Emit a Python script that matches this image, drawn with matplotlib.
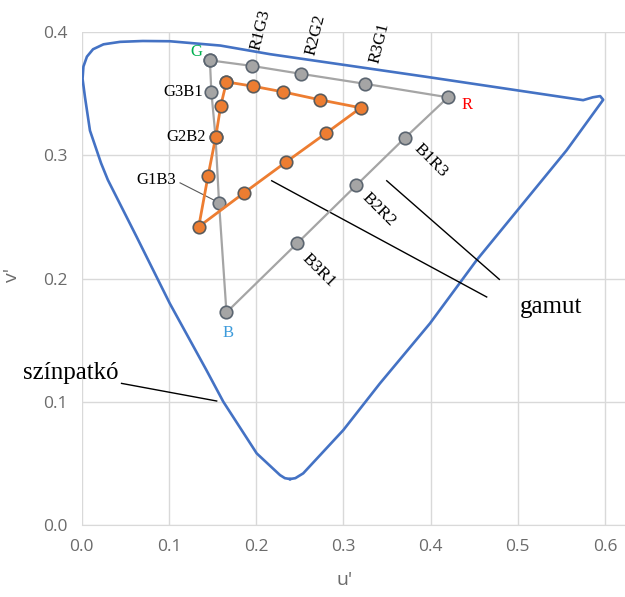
import numpy as np
import matplotlib
matplotlib.use("Agg")
import matplotlib.pyplot as plt

# spectral locus ("színpatkó")
locus_u = [0.2389, 0.233, 0.2274, 0.2007, 0.1624, 0.143, 0.101, 0.063, 0.030, 0.0222, 0.0095,
           0.0038, 0.001, 0.002, 0.006, 0.013, 0.025, 0.044, 0.070, 0.101, 0.159, 0.216, 0.3956,
           0.575, 0.586, 0.5945, 0.598, 0.556, 0.453, 0.3994, 0.342, 0.300, 0.254, 0.245, 0.2389]
locus_v = [0.0373, 0.038, 0.0405, 0.0581, 0.100, 0.1257, 0.1798, 0.2338, 0.280, 0.2936, 0.320,
           0.347, 0.362, 0.372, 0.380, 0.386, 0.390, 0.392, 0.3927, 0.3925, 0.389, 0.382, 0.3636,
           0.3447, 0.347, 0.348, 0.345, 0.304, 0.215, 0.1636, 0.1149, 0.077, 0.0419, 0.038, 0.0373]

# display gamut triangle (gray) with intermediate points
tri_names = ["G", "R1G3", "R2G2", "R3G1", "R", "B1R3", "B2R2", "B3R1", "B", "G1B3", "G2B2", "G3B1"]
tri_u = [0.147, 0.195, 0.252, 0.3245, 0.420, 0.3704, 0.315, 0.247, 0.166, 0.1575, 0.1535, 0.1487]
tri_v = [0.377, 0.3725, 0.366, 0.358, 0.347, 0.3139, 0.2757, 0.2285, 0.1725, 0.2614, 0.3146, 0.3514]

# measured gamut (orange)
meas_u = [0.166, 0.1965, 0.231, 0.273, 0.320, 0.2798, 0.2347, 0.1862, 0.1342, 0.1449, 0.1537, 0.1594]
meas_v = [0.3595, 0.356, 0.3514, 0.345, 0.3385, 0.3177, 0.2947, 0.2695, 0.242, 0.2833, 0.3149, 0.340]

serif = "Liberation Serif"
tickfont = "Open Sans"

fig = plt.figure(figsize=(6.25, 5.97), dpi=100)
ax = fig.add_axes([0.1307, 0.1206, 0.8693, 0.8258])

ax.set_xlim(0, 0.623)
ax.set_ylim(0, 0.4)
ax.set_xticks(np.arange(0, 0.61, 0.1))
ax.set_yticks(np.arange(0, 0.41, 0.1))
ax.xaxis.set_major_formatter(matplotlib.ticker.FormatStrFormatter("%.1f"))
ax.yaxis.set_major_formatter(matplotlib.ticker.FormatStrFormatter("%.1f"))
ax.grid(True, color="#d9d9d9", linewidth=1.0)
ax.set_axisbelow(True)
for s in ["left", "right", "top"]:
    ax.spines[s].set_visible(False)
ax.spines["bottom"].set_color("#d9d9d9")
ax.tick_params(length=0, labelcolor="#6b6b6b", labelsize=12.5, pad=10)
for lab in ax.get_xticklabels() + ax.get_yticklabels():
    lab.set_fontfamily(tickfont)

ax.plot(locus_u, locus_v, color="#4472c4", linewidth=1.9, zorder=2,
        solid_joinstyle="round")

tu = tri_u + [tri_u[0]]
tv = tri_v + [tri_v[0]]
ax.plot(tu, tv, color="#a5a5a5", linewidth=1.6, marker="o", markersize=9,
        markerfacecolor="#a5a5a5", markeredgecolor="#5b6570", markeredgewidth=1.2, zorder=3)

mu = meas_u + [meas_u[0]]
mv = meas_v + [meas_v[0]]
ax.plot(mu, mv, color="#ed7d31", linewidth=2.0, marker="o", markersize=9,
        markerfacecolor="#ed7d31", markeredgecolor="#5b5b5b", markeredgewidth=1.2, zorder=4)

# primaries
ax.text(0.131, 0.3836, "G", color="#00b050", fontsize=12, family=serif, ha="center", va="center")
ax.text(0.442, 0.341, "R", color="#ff0000", fontsize=12, family=serif, ha="center", va="center")
ax.text(0.168, 0.1557, "B", color="#3d9bdb", fontsize=12, family=serif, ha="center", va="center")

# point labels
ax.text(0.139, 0.351, "G3B1", fontsize=12, family=serif, ha="right", va="center")
ax.text(0.1426, 0.3147, "G2B2", fontsize=12, family=serif, ha="right", va="center")
ax.text(0.0852, 0.2798, "G1B3", fontsize=12, family=serif, ha="center", va="center")
ax.plot([0.1128, 0.1517], [0.2776, 0.2636], color="#595959", linewidth=0.8, zorder=2)
for name, x, y in [("R1G3", 0.2056, 0.4015), ("R2G2", 0.2686, 0.3974), ("R3G1", 0.3421, 0.3909)]:
    ax.text(x, y, name, fontsize=12.5, family=serif, ha="center", va="center",
            rotation=76, rotation_mode="anchor", clip_on=False)
for name, x, y in [("B1R3", 0.3996, 0.296), ("B2R2", 0.3409, 0.2563), ("B3R1", 0.2722, 0.2068)]:
    ax.text(x, y, name, fontsize=12.5, family=serif, ha="center", va="center",
            rotation=-45, rotation_mode="anchor")

# annotations
ax.text(0.538, 0.177, "gamut", fontsize=18, family=serif, ha="center", va="center")
ax.plot([0.2179, 0.4644], [0.2793, 0.1850], color="black", linewidth=1.0)
ax.plot([0.3498, 0.4789], [0.2793, 0.1993], color="black", linewidth=1.0)
ax.text(-0.0123, 0.1233, "színpatkó", fontsize=18, family=serif, ha="center", va="center", clip_on=False)
ax.plot([0.0457, 0.1548], [0.1149, 0.1006], color="black", linewidth=1.0, clip_on=False)

fig.text(345 / 625, 1 - 580 / 597, "u'", fontsize=14, family=tickfont, color="#6b6b6b", ha="center", va="center")
fig.text(12 / 625, 1 - 275 / 597, "v'", fontsize=14, family=tickfont, color="#6b6b6b", ha="center", va="center", rotation=90)

fig.savefig("out.png", dpi=100)
